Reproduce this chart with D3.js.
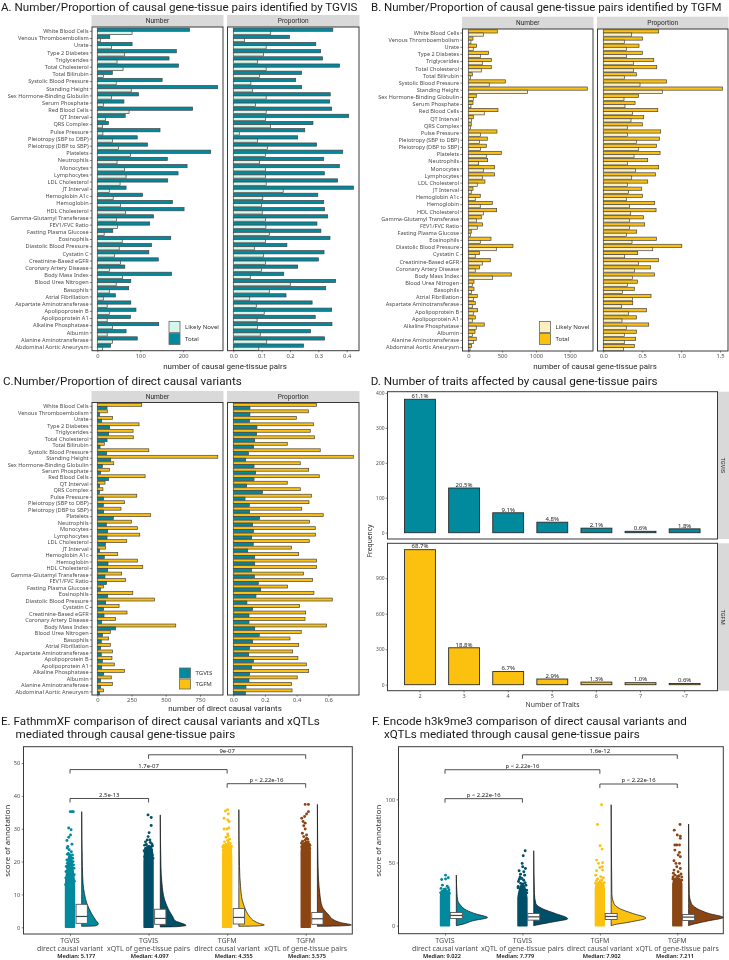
<!DOCTYPE html>
<html><head><meta charset="utf-8">
<script src="https://cdn.jsdelivr.net/npm/d3@7"></script>
<style>html,body{margin:0;padding:0;background:#fff;overflow:hidden}svg{display:block;filter:blur(.3px)}</style>
</head><body><div id="c"></div>
<script>
const traits=["White Blood Cells","Venous Thromboembolism","Urate","Type 2 Diabetes","Triglycerides","Total Cholesterol","Total Bilirubin","Systolic Blood Pressure","Standing Height","Sex Hormone-Binding Globulin","Serum Phosphate","Red Blood Cells","QT Interval","QRS Complex","Pulse Pressure","Pleiotropy (SBP to DBP)","Pleiotropy (DBP to SBP)","Platelets","Neutrophils","Monocytes","Lymphocytes","LDL Cholesterol","JT Interval","Hemoglobin A1c","Hemoglobin","HDL Cholesterol","Gamma-Glutamyl Transferase","FEV1/FVC Ratio","Fasting Plasma Glucose","Eosinophils","Diastolic Blood Pressure","Cystatin C","Creatinine-Based eGFR","Coronary Artery Disease","Body Mass Index","Blood Urea Nitrogen","Basophils","Atrial Fibrillation","Aspartate Aminotransferase","Apolipoprotein B","Apolipoprotein A1","Alkaline Phosphatase","Albumin","Alanine Aminotransferase","Abdominal Aortic Aneurysm"];
const tgvisTotal=[215,29,81,184,167,189,35,151,280,96,62,222,65,26,146,93,117,264,163,209,188,164,67,105,175,202,131,122,36,171,126,120,142,64,173,78,73,42,78,90,77,143,67,93,31];
const tgvisNovel=[81,7,33,63,46,60,14,44,79,33,14,74,19,12,13,35,49,77,46,63,67,53,28,37,54,66,45,47,16,58,51,40,54,28,59,44,28,14,23,28,23,35,23,35,12];
const tgvisTotalProp=[.351,.198,.291,.308,.315,.375,.241,.22,.241,.342,.34,.347,.407,.281,.252,.227,.294,.386,.319,.374,.321,.368,.424,.298,.319,.322,.333,.295,.309,.341,.189,.32,.3,.227,.178,.361,.326,.186,.278,.347,.289,.348,.272,.322,.248];
const tgvisNovelProp=[.132,.039,.116,.106,.086,.116,.092,.062,.067,.116,.078,.116,.113,.131,.021,.086,.12,.113,.092,.113,.113,.116,.176,.104,.099,.102,.114,.115,.127,.113,.074,.106,.114,.099,.06,.201,.127,.058,.081,.109,.084,.085,.095,.118,.09];
const tgfmTotal=[429,69,123,300,340,340,59,547,1759,118,69,438,74,44,424,281,266,488,286,389,389,246,69,177,355,419,192,212,44,335,660,163,325,167,635,84,84,133,103,138,103,236,99,118,49];
const tgfmNovel=[222,39,74,182,207,192,34,310,877,74,39,236,49,30,182,167,182,266,153,222,207,133,44,103,177,222,123,133,30,177,414,103,207,103,360,59,49,74,59,74,59,118,59,74,25];
const tgfmTotalProp=[.712,.502,.459,.502,.648,.687,.425,.811,1.532,.451,.408,.7,.519,.502,.738,.721,.682,.73,.571,.712,.67,.571,.494,.502,.661,.678,.515,.532,.429,.682,1.009,.442,.708,.609,.657,.438,.399,.614,.378,.554,.425,.584,.425,.416,.399];
const tgfmNovelProp=[.365,.27,.296,.296,.386,.386,.27,.472,.76,.266,.279,.373,.356,.309,.309,.425,.455,.395,.309,.412,.365,.309,.322,.296,.335,.352,.335,.335,.3,.369,.635,.275,.451,.399,.373,.309,.245,.373,.236,.322,.24,.296,.27,.27,.258];
const directTgfm=[324,73,112,305,261,263,51,376,880,120,88,349,56,41,288,198,173,390,249,293,310,215,59,149,293,332,178,207,44,259,417,159,217,134,573,95,83,95,110,107,124,198,102,110,46];
const directTgvis=[71,17,32,90,83,71,20,68,98,37,24,83,17,17,46,44,46,117,66,76,71,59,17,51,78,76,56,68,22,76,61,46,49,32,134,39,29,24,29,37,32,46,24,24,15];
const directTgfmProp=[.526,.474,.398,.507,.486,.512,.341,.549,.758,.423,.476,.543,.341,.423,.493,.478,.432,.568,.482,.518,.52,.48,.368,.413,.526,.526,.444,.501,.343,.509,.625,.419,.457,.453,.589,.429,.358,.413,.375,.408,.461,.476,.404,.368,.371];
const directTgvisProp=[.105,.105,.103,.149,.147,.135,.128,.095,.078,.131,.141,.131,.084,.185,.074,.101,.103,.166,.122,.128,.116,.126,.091,.135,.135,.116,.133,.158,.173,.143,.086,.122,.099,.099,.135,.164,.122,.103,.097,.128,.116,.103,.099,.08,.076];

const traitCounts=["2","3","4","5","6","7",">7"];
const traitFreqTgvis=[382,128,57,30,13,4,11];
const traitFreqTgfm=[1141,312,111,48,22,17,10];
const traitPctTgvis=["61.1%","20.5%","9.1%","4.8%","2.1%","0.6%","1.8%"];
const traitPctTgfm=["68.7%","18.8%","6.7%","2.9%","1.3%","1.0%","0.6%"];

const groups=["TGVIS\ndirect causal variant","TGVIS\nxQTL of gene-tissue pairs","TGFM\ndirect causal variant","TGFM\nxQTL of gene-tissue pairs"];
const fathmmMedians=["5.177","4.097","4.355","3.575"];
const encodeMedians=["9.022","7.779","7.902","7.211"];
const fathmmBoxes=[[1.2,3.3,7],[.9,2.7,5.5],[1,3,5.7],[.9,2.6,4.5]];
const encodeBoxes=[[5.7,8.1,10.5],[4.4,7,9.7],[4.9,7.3,9.7],[4.1,6.8,8.9]];
const fathmmViolins=[
 [[35.2,0],[18.5,.02],[13.4,.04],[10.3,.08],[7.3,.15],[4.2,.29],[2.2,.41],[1,.49],[.4,.39],[.3,0]],
 [[34.2,0],[18.5,.02],[13.4,.05],[8.3,.13],[5.3,.25],[3.2,.37],[2,.44],[1.2,.64],[.6,.76],[.2,.5],[.1,0]],
 [[35.8,0],[18.5,.02],[12.4,.05],[8.3,.1],[5.3,.2],[3.2,.32],[2,.44],[1.2,.6],[.7,.75],[.4,.5],[.3,0]],
 [[37.4,0],[18.5,.02],[10.3,.07],[6.3,.14],[3.7,.34],[2.2,.49],[1.4,.69],[.7,1],[.4,.6],[.3,0]]];
const encodeViolins=[
 [[40,0],[25.5,.02],[20.2,.04],[16.3,.12],[12.3,.29],[9.2,.58],[6.5,.9],[3.9,.48],[1.2,.19],[0,0]],
 [[59.3,0],[25.5,.02],[17.6,.06],[13.6,.24],[9.7,.62],[5.5,.98],[3.1,.58],[.5,.08],[0,0]],
 [[95.7,0],[25.5,.02],[17.6,.08],[13.6,.24],[9.7,.62],[6,1],[3.1,.58],[.5,.05],[0,0]],
 [[80.4,0],[25.5,.02],[17.6,.08],[13.6,.24],[9.7,.58],[6.5,1],[3.9,.58],[.5,.05],[0,0]]];
const fathmmBodies=[
 [[0,1],[13,1],[15,.9],[17,.72],[19,.55],[21,.35],[22,.15],[22.3,0]],
 [[0,1],[20,1],[22.5,.9],[24,.7],[24.6,.3],[24.8,0]],
 [[0,1],[22,1],[23.8,.88],[25,.55],[25.4,0]],
 [[0,1],[23,1],[24.8,.9],[25.6,.5],[26,0]]];
const encodeBodies=[
 [[0,1],[24,1],[26,.85],[27.6,.45],[28,0]],
 [[0,1],[22,1],[26,.82],[30,.55],[32,.3],[32.5,0]],
 [[0,1],[29,1],[32,.88],[34,.55],[35,0]],
 [[0,1],[33,1],[35.5,.85],[37.5,.5],[38,0]]];
const fathmmOutliers=[
 [[35.2,.06],[35.2,.45],[35.2,.75],[30.2,-.3],[29.7,.25],[28.1,.12],[27.4,-.3],[26.4,-.7],[25.3,.45],[24.6,-.5],[24.1,-.65],[23.6,-.2],[23,.3],[22.5,-.4],[22,.55],[21.5,-.1],[21,.6],[20.5,-.7],[20,.7],[19.5,-.6],[19,.8],[18.5,-.85],[18,.9],[17,-.9],[16,.95],[15,-.95],[22.2,-.6],[21,.1],[19.4,.3],[17.8,-.45],[14,1],[13,-1]],
 [[34.2,-.12],[33.4,.6],[31,.6],[28.8,.12],[27.6,-.1],[26.6,-.3],[26.6,.3],[25.8,.4],[25.2,-.5],[24.5,.6],[24,-.7],[23.5,.7],[22.8,-.8],[22,.85],[21.5,-.9],[26,-.7],[25.4,.75],[25,-.9],[24.6,.05],[23.3,-1],[24.8,.9],[21,1]],
 [[35.8,.1],[35.4,-.4],[34.5,.25],[33.2,-.7],[32.7,.12],[32.2,.45],[29.9,-.7],[29.9,-.05],[30.2,.4],[28.4,.12],[27.8,.25],[27.4,-.25],[26.8,.55],[26,-.6],[25.5,.7],[25,-.8],[24,.85],[23.5,-.9],[26.4,.1],[25.8,.3],[25.2,-.2],[24.6,1],[24.4,-1]],
 [[37.4,-.12],[37.4,.62],[35.2,.62],[34.5,.2],[33.7,-.25],[33.2,-.9],[32.2,-.6],[31.7,-.12],[30.9,-.45],[29.9,-.12],[28.6,-.75],[28.1,.2],[27.6,-.45],[27.1,.2],[26.2,-.7],[26,.6],[25.2,.8],[24.5,-.9],[24,.9],[26.6,-.1],[25.6,-.95],[25,.95],[26.8,.45],[25.8,.2]]];
const encodeOutliers=[
 [[40,.12],[36.6,-.75],[37.9,.75],[36.9,.12],[32.1,-.6],[31.3,.5],[30,.75],[29.5,-.9],[28.7,-.25],[28.2,.9],[27,-.7],[26.5,.85],[27.5,.3],[26,-1],[25.5,1],[29,.1]],
 [[59.3,.62],[55.3,.18],[49.3,-.06],[46.6,.06],[45.3,.68],[43.5,-.75],[42.7,.31],[40.8,-.43],[40,.5],[37.4,-.12],[36,.3],[35,-.9],[34,.6],[32,.8],[30,-1],[28,.95],[38.5,-.55],[36.8,-.7],[33.5,-.4],[33,.1],[31,-.95],[26,1]],
 [[95.7,.38],[80.1,-.56],[63.3,.06],[60.6,.5],[51.9,-.75],[49.3,-.31],[49.8,.62],[46.6,.56],[46.1,0],[43.5,-.75],[44,.62],[40,-.94],[38.7,.19],[38,.8],[37,-.5],[36.2,.45],[35.6,-.8],[35.5,.1],[34,1],[33.5,-1]],
 [[80.1,.62],[75.6,-.69],[71.7,0],[70.9,.69],[69.1,.69],[63.8,-.56],[63.8,-.12],[63.8,.5],[59.8,-.56],[58,.5],[55.9,.19],[54.5,.69],[51.4,-.75],[49.3,-.31],[49.3,.5],[46.6,-.12],[45.3,.69],[44,-.75],[42.7,.19],[41.5,-.9],[41,.85],[40,-.5],[39.5,.4],[38.6,-.95],[38.5,1],[39,.05],[37,-1],[36,1]]];
const fathmmBrackets=[[0,1,39.2,"2.5e-13"],[0,2,48,"1.7e-07"],[1,3,52.5,"9e-07"],[2,3,43.7,"p < 2.22e-16"]];
const encodeBrackets=[[0,1,100.5,"p < 2.22e-16"],[0,2,123.4,"p < 2.22e-16"],[1,3,135.2,"1.6e-12"],[2,3,112.1,"p < 2.22e-16"]];

const TEAL="#018a9e",DTEAL="#004f68",YEL="#fcc10e",BROWN="#8b4513",NOVA="#d6f6ec",NOVB="#fdf0c0";
const groupColors=[TEAL,DTEAL,YEL,BROWN];
const UI="'Noto Sans',sans-serif",HEAD="Roboto,sans-serif",GREY="#4d4d4d";
const mctx=document.createElement("canvas").getContext("2d");
function fit(s,font,width,weight=400){mctx.font=`${weight} 100px ${font}`;return 100*width/mctx.measureText(s).width;}

const svg=d3.select("#c").append("svg").attr("width",729).attr("height",960);
svg.append("rect").attr("width",729).attr("height",960).attr("fill","#fff");

function txt(x,y,s,o={}){
  const t=svg.append("text").attr("x",x).attr("y",y).attr("dominant-baseline","central")
   .attr("font-family",o.font||UI).attr("font-size",o.size||6).attr("fill",o.fill||GREY)
   .attr("text-anchor",o.anchor||"middle").attr("font-weight",o.weight||400).text(s);
  if(o.rot)t.attr("transform",`rotate(${o.rot} ${x} ${y})`);
  return t;
}
function title(x,y,s,w){txt(x,y,s,{font:HEAD,size:fit(s,HEAD,w),fill:"#1a1a1a",anchor:"start"});}
const labelSize=fit("Gamma-Glutamyl Transferase",UI,78);
const axisTitleSize=fit("number of causal gene-tissue pairs",HEAD,124);
const stripSize=fit("Proportion",HEAD,31);
const legendSize=fit("Likely Novel",UI,34);
const catSize=fit("xQTL of gene-tissue pairs",UI,83);
const medSize=fit("Median: 5.177",UI,38,600);
const scoreSize=fit("score of annotation",UI,72);
const pSize=fit("p < 2.22e-16",UI,34);
const pctSize=fit("61.1%",UI,17);
function styleAxis(g,size=5.8){
  g.select(".domain").remove();
  g.selectAll(".tick line").attr("stroke","#333").attr("stroke-width",.6);
  g.selectAll(".tick text").attr("font-family",UI).attr("font-size",size).attr("fill",GREY);
}
function frame(x0,x1,y0,y1){
  svg.append("rect").attr("x",x0).attr("y",y0).attr("width",x1-x0).attr("height",y1-y0)
   .attr("fill","none").attr("stroke","#3a3a3a").attr("stroke-width",1);
}
function strip(x0,x1,y0,y1,s){
  svg.append("rect").attr("x",x0-.5).attr("y",y0).attr("width",x1-x0+1).attr("height",y1-y0).attr("fill","#d9d9d9");
  txt((x0+x1)/2,(y0+y1)/2,s,{font:HEAD,size:stripSize,fill:"#2a2a2a"});
}
function barPanel(p){
  const y=d3.scaleBand().domain(traits).range([p.first-p.step/2,p.first+44*p.step+p.step/2]).paddingInner(.1).paddingOuter(.05);
  const x=d3.scaleLinear().domain([0,p.x1]).range([p.x0px,p.x1px]);
  strip(p.left,p.right,p.stripTop,p.top,p.name);
  svg.append("g").selectAll("rect").data(traits).join("rect")
   .attr("x",x(0)).attr("y",d=>y(d)).attr("width",(d,i)=>x(p.a[i])-x(0)).attr("height",y.bandwidth()/2)
   .attr("fill",p.colA).attr("stroke","#444").attr("stroke-width",.7);
  svg.append("g").selectAll("rect").data(traits).join("rect")
   .attr("x",x(0)).attr("y",d=>y(d)+y.bandwidth()/2).attr("width",(d,i)=>x(p.b[i])-x(0)).attr("height",y.bandwidth()/2)
   .attr("fill",p.colB).attr("stroke","#444").attr("stroke-width",.7);
  frame(p.left,p.right,p.top,p.bottom);
  const gx=svg.append("g").attr("transform",`translate(0,${p.bottom})`)
   .call(d3.axisBottom(x).tickValues(p.ticks).tickFormat(p.fmt).tickSize(1.6).tickPadding(1.6));
  styleAxis(gx);
  if(p.showY){
    const gy=svg.append("g").attr("transform",`translate(${p.left},0)`)
     .call(d3.axisLeft(y).tickSize(2.2).tickPadding(1.2));
    styleAxis(gy,labelSize);
  }
}
function legend(x,y,h,items){
  items.forEach((it,i)=>{
    svg.append("rect").attr("x",x).attr("y",y+i*h).attr("width",11).attr("height",h-1)
      .attr("fill",it[1]).attr("stroke","#666").attr("stroke-width",.8);
    txt(x+16,y+i*h+(h-1)/2,it[0],{anchor:"start",size:legendSize,fill:"#333"});
  });
}

/* Panel A */
title(1,7,"A. Number/Proportion of causal gene-tissue pairs identified by TGVIS",357);
const rowA={first:31.3,step:7.18,stripTop:15,top:27,bottom:350.7};
barPanel({...rowA,name:"Number",left:92,right:223,x1:200,x0px:97.3,x1px:183.2,a:tgvisTotal,b:tgvisNovel,colA:TEAL,colB:NOVA,ticks:[0,100,200],fmt:d3.format("d"),showY:true});
barPanel({...rowA,name:"Proportion",left:227.5,right:359,x1:.4,x0px:233.3,x1px:346.7,a:tgvisTotalProp,b:tgvisNovelProp,colA:TEAL,colB:NOVA,ticks:[0,.1,.2,.3,.4],fmt:d3.format(".1f")});
txt(225,366.3,"number of causal gene-tissue pairs",{font:HEAD,size:axisTitleSize,fill:"#1f1f1f"});
legend(169,321.5,12,[["Likely Novel",NOVA],["Total",TEAL]]);

/* Panel B */
title(371,7,"B. Number/Proportion of causal gene-tissue pairs identified by TGFM",351);
const rowB={first:33,step:7.15,stripTop:16.7,top:29,bottom:351};
barPanel({...rowB,name:"Number",left:462.5,right:593,x1:1500,x0px:468.3,x1px:569.8,a:tgfmTotal,b:tgfmNovel,colA:YEL,colB:NOVB,ticks:[0,500,1000,1500],fmt:d3.format("d"),showY:true});
barPanel({...rowB,name:"Proportion",left:597.5,right:728,x1:1.5,x0px:603.3,x1px:720,a:tgfmTotalProp,b:tgfmNovelProp,colA:YEL,colB:NOVB,ticks:[0,.5,1,1.5],fmt:d3.format(".1f")});
txt(595,366.3,"number of causal gene-tissue pairs",{font:HEAD,size:axisTitleSize,fill:"#1f1f1f"});
legend(539.5,321.5,12,[["Likely Novel",NOVB],["Total",YEL]]);

/* Panel C */
title(3,381,"C.Number/Proportion of direct causal variants",239);
const rowC={first:406.3,step:6.49,stripTop:391,top:402.5,bottom:695};
barPanel({...rowC,name:"Number",left:92,right:223,x1:750,x0px:97.3,x1px:200,a:directTgfm,b:directTgvis,colA:YEL,colB:TEAL,ticks:[0,250,500,750],fmt:d3.format("d"),showY:true});
barPanel({...rowC,name:"Proportion",left:227.5,right:359,x1:.6,x0px:233.3,x1px:328.3,a:directTgfmProp,b:directTgvisProp,colA:YEL,colB:TEAL,ticks:[0,.2,.4,.6],fmt:d3.format(".1f")});
txt(225,708,"number of direct causal variants",{font:HEAD,size:axisTitleSize,fill:"#1f1f1f"});
legend(179.5,668,11,[["TGVIS",TEAL],["TGFM",YEL]]);

/* Panel D */
title(370.7,381,"D. Number of traits affected by causal gene-tissue pairs",287);
function freqPanel(vals,pcts,col,domMax,y0,y1,top,bottom,ticks,name){
  const x=d3.scaleBand().domain(traitCounts).range([391.3,713.3]).padding(.3);
  const y=d3.scaleLinear().domain([0,domMax]).range([y0,y1]);
  svg.append("rect").attr("x",717.5).attr("y",top).attr("width",12).attr("height",bottom-top).attr("fill","#d9d9d9");
  txt(723,(top+bottom)/2,name,{size:5.6,rot:90,fill:"#2a2a2a",font:HEAD});
  svg.append("g").selectAll("rect").data(traitCounts).join("rect")
   .attr("x",d=>x(d)).attr("width",x.bandwidth()).attr("y",(d,i)=>y(vals[i])).attr("height",(d,i)=>y0-y(vals[i]))
   .attr("fill",col).attr("stroke","#2a2a2a").attr("stroke-width",.9);
  svg.append("g").selectAll("text").data(traitCounts).join("text")
   .attr("x",d=>x(d)+x.bandwidth()/2).attr("y",(d,i)=>y(vals[i])-3.2).attr("text-anchor","middle").attr("dominant-baseline","central")
   .attr("font-family",UI).attr("font-size",pctSize).attr("fill","#222").text((d,i)=>pcts[i]);
  frame(387.5,717.5,top,bottom);
  styleAxis(svg.append("g").attr("transform","translate(387.5,0)").call(d3.axisLeft(y).tickValues(ticks).tickSize(1.8).tickPadding(1.2)),4.9);
  return x;
}
freqPanel(traitFreqTgvis,traitPctTgvis,TEAL,400,532.7,393,391.7,539,[0,100,200,300,400],"TGVIS");
const xD=freqPanel(traitFreqTgfm,traitPctTgfm,YEL,900,684.7,578.2,543.3,690.7,[0,300,600,900],"TGFM");
styleAxis(svg.append("g").attr("transform","translate(0,690.7)").call(d3.axisBottom(xD).tickSize(1.8).tickPadding(1.5)),5.5);
txt(552.5,704,"Number of Traits",{size:fit("Number of Traits",UI,54),fill:"#333"});
txt(369,541,"Frequency",{size:fit("Frequency",UI,33),rot:-90,fill:"#333"});

/* Panels E, F */
function rain(p){
  const x=d3.scalePoint().domain(groups).range(p.xr);
  const y=d3.scaleLinear().domain([0,p.ymax]).range(p.yr);
  const w=d3.scaleLinear().domain([0,1]).range([0,p.maxW]);
  groups.forEach((g,i)=>{
    const cx=x(g),base=cx+p.dodge,col=groupColors[i];
    svg.append("path").datum(p.violins[i])
      .attr("d",d3.area().curve(d3.curveMonotoneY).y(d=>y(d[0])).x0(base).x1(d=>base+w(d[1])))
      .attr("fill",col).attr("stroke","#111").attr("stroke-width",.7);
    svg.append("path").datum(p.bodies[i])
      .attr("d",d3.area().y(d=>y(d[0])).x0(d=>cx-p.jit*d[1]).x1(d=>cx+p.jit*d[1]))
      .attr("fill",col).attr("stroke",col).attr("stroke-width",1.6).attr("stroke-linejoin","round");
    svg.append("g").selectAll("circle").data(p.outliers[i]).join("circle")
      .attr("cx",d=>cx+p.jit*d[1]).attr("cy",d=>y(d[0])).attr("r",1.45).attr("fill",col);
    const b=p.boxes[i];
    svg.append("rect").attr("x",base-p.boxW/2).attr("width",p.boxW).attr("y",y(b[2])).attr("height",y(b[0])-y(b[2]))
      .attr("fill","#fff").attr("stroke","#555").attr("stroke-width",.9);
    svg.append("line").attr("x1",base-p.boxW/2).attr("x2",base+p.boxW/2).attr("y1",y(b[1])).attr("y2",y(b[1]))
      .attr("stroke","#444").attr("stroke-width",1.2);
  });
  frame(p.left,p.right,p.top,p.bottom);
  p.brackets.forEach(b=>{
    const x0=x(groups[b[0]]),x1=x(groups[b[1]]),yy=y(b[2]);
    svg.append("path").attr("d",d3.line()([[x0,yy+4],[x0,yy],[x1,yy],[x1,yy+4]])).attr("fill","none").attr("stroke","#222").attr("stroke-width",.8);
    txt((x0+x1)/2,yy-3.6,b[3],{size:pSize,fill:"#222"});
  });
  styleAxis(svg.append("g").attr("transform",`translate(${p.left},0)`).call(d3.axisLeft(y).tickValues(p.yticks).tickSize(1.8).tickPadding(1.5)),5.6);
  const gx=svg.append("g").attr("transform",`translate(0,${p.bottom})`).call(d3.axisBottom(x).tickSize(1.8).tickFormat(""));
  styleAxis(gx);
  groups.forEach((g,i)=>{
    const [a,c]=g.split("\n");
    txt(x(g),940,a,{size:catSize});
    txt(x(g),948,c,{size:catSize});
    txt(p.medianX[i],956.2,"Median: "+p.medians[i],{size:medSize,fill:"#111",weight:600});
  });
  txt(p.ytitleX,840.7,"score of annotation",{size:scoreSize,rot:-90,fill:"#333"});
}
title(1,721,"E. FathmmXF comparison of  direct causal variants and xQTLs",322);
title(15.5,734,"mediated through causal gene-tissue pairs",220);
rain({xr:[70,305.7],yr:[927.3,763],ymax:50,yticks:[0,10,20,30,40,50],maxW:34,dodge:11.7,jit:4.4,boxW:11.3,
  left:23.5,right:352.3,top:746.7,bottom:934,violins:fathmmViolins,bodies:fathmmBodies,outliers:fathmmOutliers,boxes:fathmmBoxes,
  brackets:fathmmBrackets,medians:fathmmMedians,medianX:[76.3,149.7,233.7,307],ytitleX:7});
title(372,721,"F. Encode h3k9me3 comparison of direct causal variants and",315);
title(384,734,"xQTLs mediated through causal gene-tissue pairs",256);
rain({xr:[445,677.3],yr:[925.7,799.3],ymax:100,yticks:[0,50,100],maxW:34.7,dodge:11.3,jit:4.4,boxW:12,
  left:398.5,right:723.3,top:746.7,bottom:933.7,violins:encodeViolins,bodies:encodeBodies,outliers:encodeOutliers,boxes:encodeBoxes,
  brackets:encodeBrackets,medians:encodeMedians,medianX:[442,515.3,601.7,675],ytitleX:378.3});
</script></body></html>
